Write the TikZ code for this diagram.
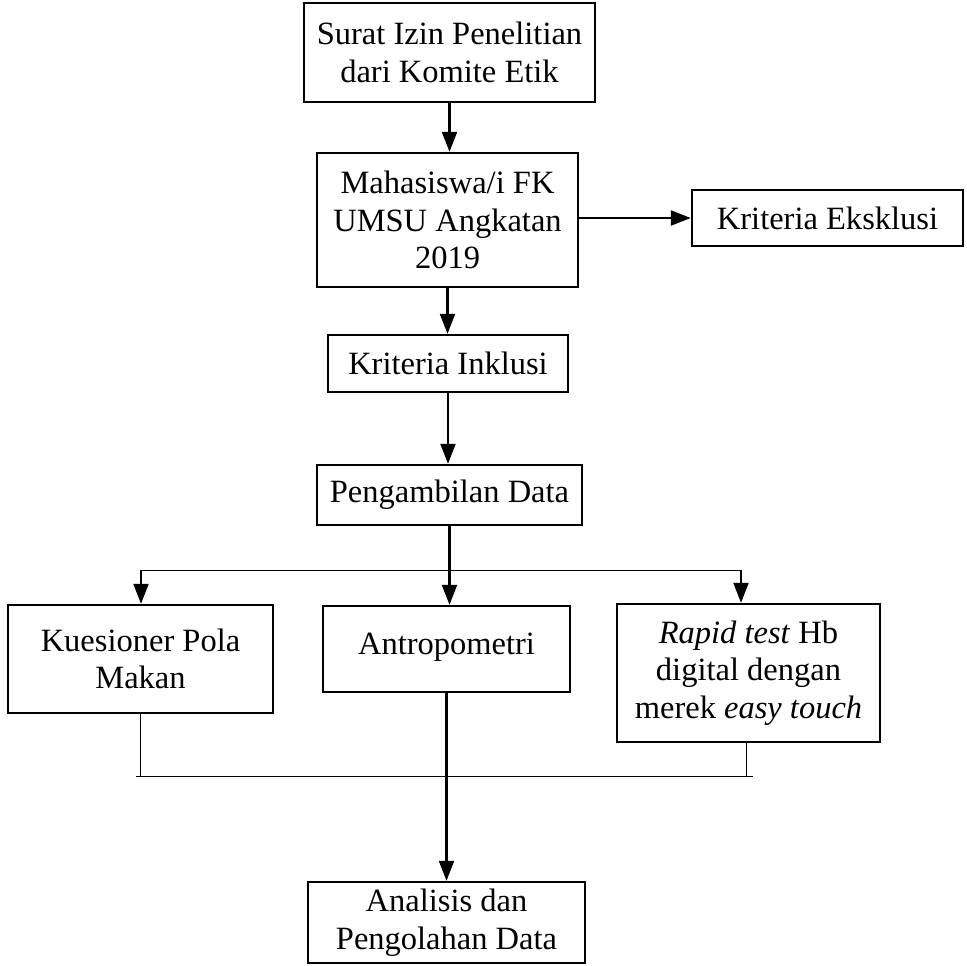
\documentclass[tikz,border=0pt]{standalone}
\usepackage{fontspec}
\setmainfont{Liberation Serif}
\usetikzlibrary{arrows.meta,calc}

\begin{document}
\begin{tikzpicture}[x=1pt,y=-1pt,
  box/.style={draw,line width=2.4pt,inner sep=0pt,align=center,font=\fontsize{32.5}{37.5}\selectfont},
  arr/.style={line width=2.2pt,-{Triangle[length=20pt,width=15pt]}},
  thin/.style={line width=1pt}]
\useasboundingbox (0,0) rectangle (966,966);
\node[box,minimum width=291pt,minimum height=99pt] (surat) at (449.5,52.5) {Surat Izin Penelitian\\dari Komite Etik};
\node[box,minimum width=261pt,minimum height=134pt] (mhs) at (447.5,220) {Mahasiswa/i FK\\UMSU Angkatan\\2019};
\node[box,minimum width=271pt,minimum height=56pt] (ekskl) at (827.5,218) {Kriteria Eksklusi};
\node[box,minimum width=240pt,minimum height=57pt] (inkl) at (448,363.5) {Kriteria Inklusi};
\node[box,minimum width=265pt,minimum height=60pt] (ambil) at (449.5,495) {Pengambilan Data};
\node[box,minimum width=265pt,minimum height=108pt] (kues) at (140.5,659) {Kuesioner Pola\\Makan};
\node[box,minimum width=247pt,minimum height=86pt,text depth=10pt] (antro) at (446.5,649) {Antropometri};
\node[box,minimum width=263pt,minimum height=138pt] (rapid) at (748.5,673) {\textit{Rapid test} Hb\\digital dengan\\merek \textit{easy touch}};
\node[box,minimum width=277pt,minimum height=81pt] (anal) at (446.5,922.5) {Analisis dan\\Pengolahan Data};
\coordinate (bL) at (141,570); \coordinate (bR) at (741,570);
\coordinate (jL) at (136,776); \coordinate (jR) at (753,776);
\draw[arr] (surat.south) -- (surat.south |- mhs.north);
\draw[arr] (ekskl.west -| mhs.east) -- (ekskl.west);
\draw[arr] (mhs.south) -- (mhs.south |- inkl.north);
\draw[arr] (inkl.south) -- (inkl.south |- ambil.north);
\draw[arr] (ambil.south) -- (ambil.south |- antro.north);
\draw[thin] (bL) -- (bR);
\draw[arr] (bL) -- (bL |- kues.north);
\draw[arr] (bR) -- (bR |- rapid.north);
\draw[thin] (kues.south) -- (kues.south |- jL);
\draw[thin] (rapid.south -| jR) ++(-7,0) -- ++(0,34);
\draw[thin] (jL) -- (jR);
\draw[arr] (antro.south) -- (antro.south |- anal.north);
\end{tikzpicture}
\end{document}
